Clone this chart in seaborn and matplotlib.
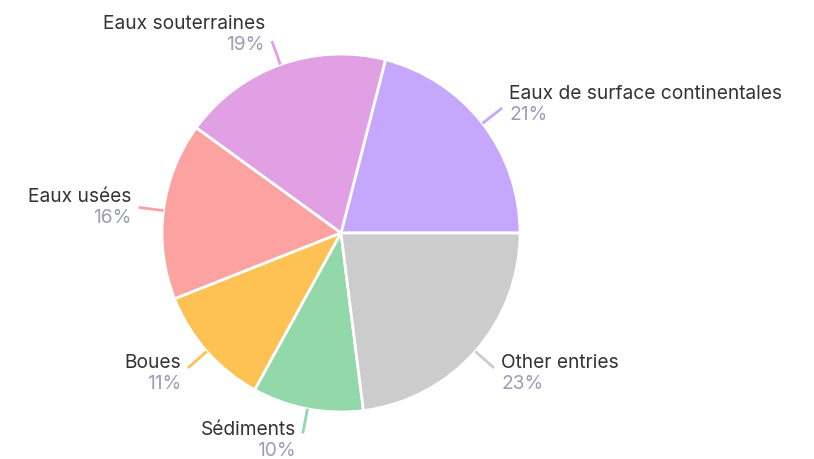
import numpy as np
import seaborn as sns
import matplotlib
import matplotlib.pyplot as plt

sns.set_style("white")
plt.rcParams["font.family"] = ["Inter", "DejaVu Sans"]

categories = ["Eaux de surface continentales", "Eaux souterraines", "Eaux usées",
              "Boues", "Sédiments", "Other entries"]
shares = [21, 19, 16, 11, 10, 23]
colors = ["#c5a8fe", "#e2a0e4", "#fca3a2", "#fec153", "#92d8a9", "#cccccc"]

W, H = 814, 460
fig = plt.figure(figsize=(W / 100, H / 100), dpi=100)
ax = fig.add_axes([0, 0, 1, 1])

cx, cy, r = 341, H - 234, 179
wedges, _ = ax.pie(shares, colors=colors, startangle=0, counterclock=True,
                   center=(cx, cy), radius=r, frame=True,
                   wedgeprops=dict(edgecolor="white", linewidth=2))
ax.set_xlim(0, W)
ax.set_ylim(0, H)
ax.set_aspect("equal")
ax.axis("off")

for w, name, val, col in zip(wedges, categories, shares, colors):
    ang = np.deg2rad((w.theta1 + w.theta2) / 2)
    c, s = np.cos(ang), np.sin(ang)
    x0, y0 = cx + r * c, cy + r * s
    x1, y1 = cx + r * 1.14 * c, cy + r * 1.14 * s
    ax.plot([x0, x1], [y0, y1], color=col, lw=2, solid_capstyle="butt")
    right = c > 0
    tx = x1 + (7 if right else -7)
    ha = "left" if right else "right"
    dy = 11 + 7 * s
    ax.text(tx, y1 + dy, name, ha=ha, va="center", fontsize=13.8, color="#333333")
    ax.text(tx, y1 + dy - 21, f"{val}%", ha=ha, va="center", fontsize=13.8,
            color="#9c9cb8")

fig.savefig("out.png", dpi=100, facecolor="white")
